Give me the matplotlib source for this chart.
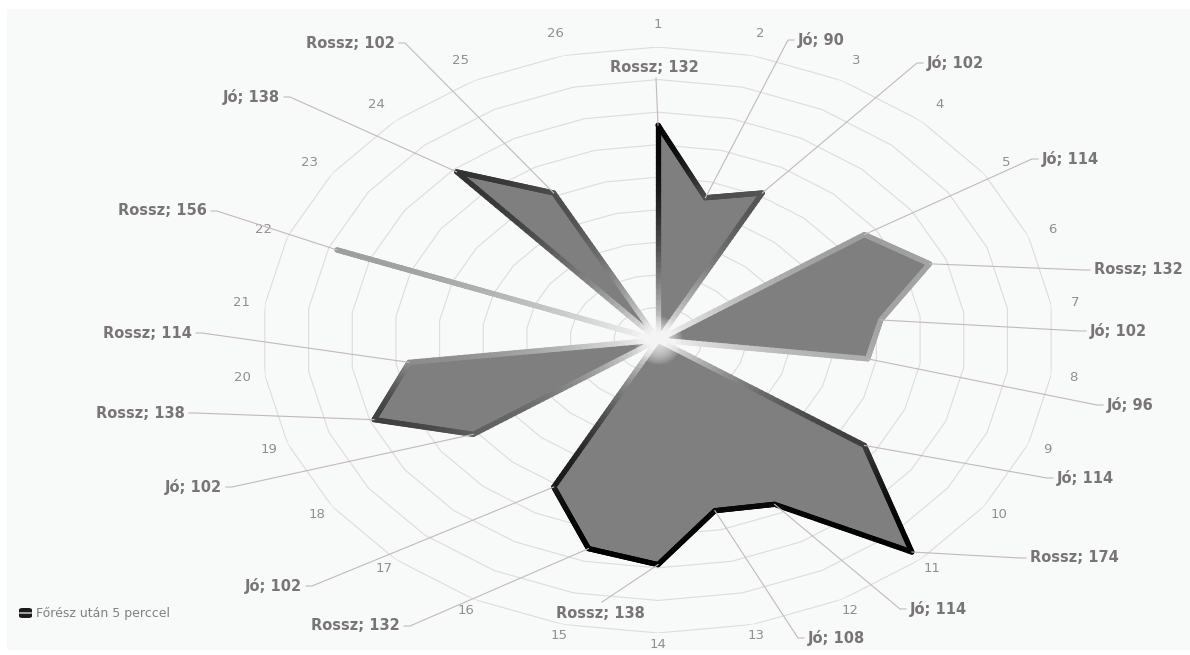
import numpy as np
import matplotlib
matplotlib.use("Agg")
import matplotlib.pyplot as plt
from matplotlib.collections import LineCollection
from matplotlib.lines import Line2D
from matplotlib.patches import Rectangle, FancyBboxPatch

# ---- data -------------------------------------------------------------
categories = [str(i) for i in range(1, 27)]
values = [132, 90, 102, 0, 114, 132, 102, 96, 0, 114, 174, 114, 108, 138,
          132, 102, 0, 102, 138, 114, 0, 156, 0, 138, 102, 0]
ratings = ["Rossz", "Jó", "Jó", None, "Jó", "Rossz", "Jó", "Jó", None, "Jó",
           "Rossz", "Jó", "Jó", "Rossz", "Rossz", "Jó", None, "Jó", "Rossz",
           "Rossz", None, "Rossz", None, "Jó", "Rossz", None]
series_name = "Főrész után 5 perccel"
r_max = 180
r_step = 20

# ---- styling ----------------------------------------------------------
# grey level of the gradient outline at each point (0 = black, 1 = white)
outline_shade = [0.02, 0.30, 0.33, None, 0.62, 0.64, 0.64, 0.68, None, 0.25,
                 0.00, 0.03, 0.03, 0.00, 0.00, 0.10, None, 0.38, 0.25, 0.55,
                 None, 0.62, None, 0.20, 0.30, None]
center_shade = 0.97

# data label placement (pixel x, pixel y from top, alignment)
label_layout = {
    0: (654, 67, "center"), 1: (798, 40, "left"), 2: (927, 63, "left"),
    4: (1042, 159, "left"), 5: (1094, 270, "left"), 6: (1090, 331, "left"),
    7: (1107, 405, "left"), 9: (1057, 478, "left"), 10: (1030, 558, "left"),
    11: (910, 609, "left"), 12: (808, 638, "left"), 13: (600, 613, "center"),
    14: (400, 626, "right"), 15: (302, 586, "right"), 17: (222, 487, "right"),
    18: (185, 413, "right"), 19: (192, 333, "right"), 21: (207, 211, "right"),
    23: (280, 97, "right"), 24: (395, 43, "right"),
}

W, H = 1190, 655
fig = plt.figure(figsize=(W / 100, H / 100), dpi=100)
fig.patch.set_facecolor("white")
fig.add_artist(Rectangle((7 / W, 5 / H), (W - 7) / W, (H - 14) / H,
                         transform=fig.transFigure, facecolor="#f8f9f9",
                         edgecolor="none", zorder=0))

ax = fig.add_axes([262 / W, (H - 633) / H, 792 / W, 586 / H], projection="polar")
ax.set_aspect("auto")
ax.set_theta_zero_location("N")
ax.set_theta_direction(-1)
ax.set_ylim(0, r_max)
ax.grid(False)
ax.set_xticks([])
ax.set_yticks([])
ax.spines["polar"].set_visible(False)
ax.patch.set_alpha(0)

n = len(categories)
theta = np.arange(n) * 2 * np.pi / n
vals = np.array(values, dtype=float)

# polygonal grid rings
closed_t = np.append(theta, theta[0])
for lvl in range(r_step, r_max + 1, r_step):
    ax.plot(closed_t, [lvl] * (n + 1), color="#dcdcdc", lw=0.8, zorder=1)

# category labels just outside the outer ring
for t, c in zip(theta, categories):
    ax.text(t, 190.5 + 3.5 * np.cos(t), c, ha="center", va="center",
            fontsize=9.5, color="#8f8f8f", family="DejaVu Sans")

# filled area
ax.fill(closed_t, np.append(vals, vals[0]), color="#7f7f7f", lw=0, zorder=3)

# gradient outline, subdivided along straight chords
xs = vals * np.sin(theta)
ys = vals * np.cos(theta)
shades = [center_shade if v == 0 else s for v, s in zip(values, outline_shade)]
segs, cols = [], []
steps = 40
for i in range(n):
    j = (i + 1) % n
    for k in range(steps):
        f0, f1 = k / steps, (k + 1) / steps
        x0 = xs[i] + (xs[j] - xs[i]) * f0
        y0 = ys[i] + (ys[j] - ys[i]) * f0
        x1 = xs[i] + (xs[j] - xs[i]) * f1
        y1 = ys[i] + (ys[j] - ys[i]) * f1
        segs.append([(np.arctan2(x0, y0), np.hypot(x0, y0)),
                     (np.arctan2(x1, y1), np.hypot(x1, y1))])
        fm = (f0 + f1) / 2
        # ease the fade so the lines whiten mainly close to the centre
        if shades[j] > shades[i]:
            fm = fm ** 2
        elif shades[j] < shades[i]:
            fm = 1 - (1 - fm) ** 2
        g = shades[i] + (shades[j] - shades[i]) * fm
        cols.append((g, g, g))
lc = LineCollection(segs, colors=cols, linewidths=3.8, capstyle="round",
                    joinstyle="round", transform=ax.transData, zorder=4)
ax.add_collection(lc, autolim=False)

# soft white glow in the middle
for rad in np.linspace(24, 2, 16):
    ax.scatter([0], [0], s=(2 * rad * 0.72) ** 2, color="white", alpha=0.09,
               lw=0, zorder=5)

# data labels with leader lines
fig.canvas.draw()
for idx, (lx, ly, ha) in label_layout.items():
    txt = f"{ratings[idx]}; {values[idx]}"
    fig.text(lx / W, 1 - ly / H, txt, ha=ha, va="center", fontsize=10.5,
             fontweight="bold", color="#797575", family="DejaVu Sans")
    vx, vy = ax.transData.transform((theta[idx], values[idx]))
    yb = H - ly
    if ha == "left":
        px = [lx - 4, lx - 10, vx]
        py = [yb, yb, vy]
    elif ha == "right":
        px = [lx + 4, lx + 10, vx]
        py = [yb, yb, vy]
    else:
        off = -11 if vy < yb else 11
        px = [lx + 2, vx]
        py = [yb + off, vy]
    fig.add_artist(Line2D(px, py, transform=None, color="#c4bab5", lw=0.8,
                          zorder=2))

# legend
fig.add_artist(FancyBboxPatch((19 / W, (H - 618) / H), 13 / W, 10 / H,
                              boxstyle="round,pad=0,rounding_size=0.003",
                              transform=fig.transFigure, facecolor="#1a1a1a",
                              edgecolor="none"))
fig.add_artist(Line2D([20, 31], [H - 612.5, H - 612.5], transform=None,
                      color="#bbbbbb", lw=1.2))
fig.text(36 / W, 1 - 613 / H, series_name, ha="left", va="center",
         fontsize=9, color="#808080", family="DejaVu Sans")

fig.savefig("out.png", dpi=100)
